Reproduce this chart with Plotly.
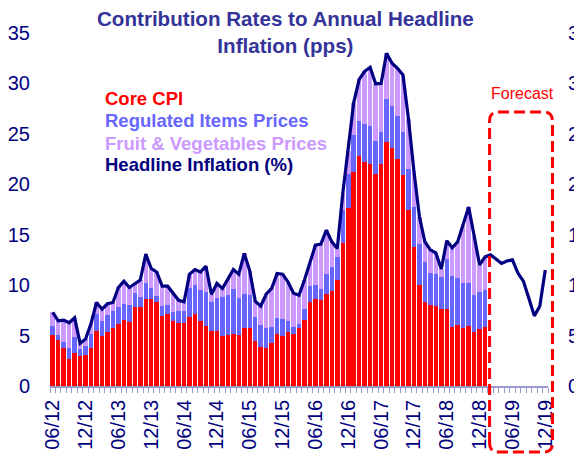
import plotly.graph_objects as go

# ---------------- data ----------------
# monthly categories 06/12 ... 12/19
months = []
for yr in range(12, 20):
    for m in range(1, 13):
        if (yr == 12 and m < 6):
            continue
        months.append(f"{m:02d}/{yr:02d}")

tick_labels = ["06/12", "12/12", "06/13", "12/13", "06/14", "12/14", "06/15", "12/15",
               "06/16", "12/16", "06/17", "12/17", "06/18", "12/18", "06/19", "12/19"]

core_cpi = [5.05, 4.55, 3.80, 2.67, 3.27, 2.94, 3.10, 3.73, 5.48, 5.00,
            5.35, 5.71, 6.17, 6.53, 6.37, 7.85, 7.85, 8.58, 8.58, 8.35,
            6.96, 7.10, 6.43, 6.27, 6.20, 6.80, 7.13, 6.47, 5.97, 5.48,
            5.45, 5.00, 5.05, 5.15, 5.08, 5.77, 5.77, 4.49, 3.89, 3.80,
            4.22, 5.15, 5.00, 5.35, 5.15, 5.71, 6.53, 8.35, 8.58, 8.51,
            9.10, 9.44, 10.50, 14.13, 17.60, 21.20, 22.77, 22.20, 22.05, 21.06,
            22.05, 24.19, 23.60, 22.54, 20.89, 17.50, 13.80, 10.00, 8.28, 8.02,
            7.92, 7.62, 7.59, 5.87, 6.00, 5.77, 5.97, 5.35, 5.61, 5.84]

regulated = [0.92, 0.53, 0.56, 1.06, 1.62, 0.72, 0.89, 1.42, 1.61, 1.40,
             1.65, 1.72, 1.62, 1.62, 1.68, 1.42, 0.99, 1.59, 1.16, 0.59,
             0.96, 0.92, 0.90, 1.16, 1.23, 2.87, 2.87, 3.03, 3.37, 2.87,
             3.29, 3.84, 4.02, 4.42, 3.60, 3.40, 3.30, 2.34, 2.15, 1.97,
             1.65, 1.61, 1.63, 1.08, 0.72, 0.43, 1.09, 1.55, 1.42, 1.06,
             1.99, 2.31, 2.30, 3.37, 3.46, 3.65, 3.50, 3.74, 3.69, 3.23,
             3.13, 4.31, 4.12, 4.26, 4.31, 4.05, 3.95, 4.10, 4.02, 3.14,
             3.17, 3.20, 5.05, 5.02, 4.72, 4.40, 4.20, 3.72, 3.73, 3.66]

fruit_veg = [1.33, 1.39, 2.17, 2.54, 1.87, 0.56, 0.66, 1.05, 1.19, 1.22,
             1.15, 0.85, 1.98, 2.25, 1.72, 0.90, 1.66, 2.90, 1.91, 2.36,
             1.98, 1.88, 1.84, 1.07, 0.92, 1.42, 1.55, 1.80, 2.54, 0.72,
             1.43, 0.83, 1.53, 1.98, 2.41, 3.97, 2.35, 1.59, 1.88, 3.33,
             3.80, 4.40, 4.46, 3.87, 3.33, 2.86, 2.88, 2.25, 3.96, 4.49,
             4.36, 2.54, 0.83, 1.60, 2.24, 3.25, 4.13, 5.26, 5.86, 5.68,
             4.82, 4.50, 4.28, 4.70, 5.65, 4.95, 3.55, 2.70, 2.00, 2.34,
             2.11, 0.78, 1.76, 2.81, 3.58, 5.83, 7.58, 5.83, 2.66, 3.30]

headline = [7.30, 6.47, 6.53, 6.27, 6.76, 4.22, 4.65, 6.20, 8.28, 7.62,
            8.15, 8.28, 9.77, 10.40, 9.77, 10.17, 10.50, 13.07, 11.65, 11.30,
            9.90, 9.90, 9.17, 8.50, 8.35, 11.09, 11.55, 11.30, 11.88, 9.07,
            10.17, 9.67, 10.60, 11.55, 11.09, 13.14, 11.42, 8.42, 7.92, 9.10,
            9.67, 11.16, 11.09, 10.30, 9.20, 9.00, 10.50, 12.15, 13.96, 14.06,
            15.45, 14.29, 13.63, 19.10, 23.30, 28.10, 30.40, 31.20, 31.60, 29.97,
            30.00, 33.00, 32.00, 31.50, 30.85, 26.50, 21.30, 16.80, 14.30, 13.50,
            13.20, 11.60, 14.40, 13.70, 14.30, 16.00, 17.75, 14.90, 12.00, 12.80,
            13.00, 12.60, 12.15, 12.40, 12.50, 11.20, 10.40, 8.70, 6.95, 7.90,
            11.50]

y_ticks = [0, 5, 10, 15, 20, 25, 30, 35]

# ---------------- styling ----------------
FONT = "Liberation Sans, Arial, sans-serif"
NAVY = "#000080"
RED = "#FF0000"
BLUE = "#6666FF"
LILAC = "#CC99FF"
AXIS = "#9999CC"
CLEAR = "rgba(0,0,0,0)"

L, R, T, B = 49.8, 25.5, 33, 71
W_FIG, H_FIG = 574, 457
PW = W_FIG - L - R
PH = H_FIG - T - B


def px_x(px):
    return (px - L) / PW


def px_y(py):
    return (H_FIG - B - py) / PH


idx = list(range(len(months)))
bar_idx = idx[:len(core_cpi)]
tick_idx = [months.index(t) for t in tick_labels]

fig = go.Figure()
fig.add_trace(go.Bar(x=bar_idx, y=core_cpi, marker=dict(color=RED, line_width=0), name="Core CPI"))
fig.add_trace(go.Bar(x=bar_idx, y=regulated, marker=dict(color=BLUE, line_width=0), name="Regulated Items Prices"))
fig.add_trace(go.Bar(x=bar_idx, y=fruit_veg, marker=dict(color=LILAC, line_width=0), name="Fruit & Vegetables Prices"))
fig.add_trace(go.Scatter(x=idx, y=headline, mode="lines", line=dict(color=NAVY, width=3.2),
                         name="Headline Inflation (%)"))
# invisible trace to activate right axis
fig.add_trace(go.Scatter(x=[idx[0]], y=[0], yaxis="y2", mode="markers",
                         marker=dict(opacity=0), showlegend=False, hoverinfo="skip"))

fig.update_layout(
    width=W_FIG, height=H_FIG, autosize=False,
    margin=dict(l=L, r=R, t=T, b=B, pad=0, autoexpand=False),
    barmode="stack", bargap=0.18,
    plot_bgcolor="white", paper_bgcolor="white",
    showlegend=False,
    font=dict(family=FONT, color=NAVY),
    xaxis=dict(range=[-0.5, len(months) - 0.5], tickmode="array", tickvals=tick_idx,
               ticktext=tick_labels, tickangle=-90, ticks="outside", ticklen=4,
               tickcolor=CLEAR, automargin=False,
               tickfont=dict(size=20, color=NAVY, family=FONT),
               showline=True, linecolor=AXIS, linewidth=1.5, showgrid=False, zeroline=False,
               minor=dict(tick0=-0.5, dtick=1, ticks="outside", ticklen=5, tickcolor=AXIS,
                          tickwidth=1, showgrid=False)),
    yaxis=dict(range=[0, 35], tickmode="array", tickvals=y_ticks, showgrid=False,
               zeroline=False, showline=False, ticks="outside", ticklen=15, tickcolor=CLEAR,
               automargin=False, tickfont=dict(size=20, color=NAVY, family=FONT)),
    yaxis2=dict(range=[0, 35], tickmode="array", tickvals=y_ticks, overlaying="y", side="right",
                showgrid=False, zeroline=False, showline=False, ticks="outside", ticklen=15,
                tickcolor=CLEAR, automargin=False,
                tickfont=dict(size=20, color=NAVY, family=FONT)),
)

# title
fig.add_annotation(x=px_x(286), y=px_y(5), xref="paper", yref="paper", xanchor="center",
                   yanchor="top", showarrow=False, align="center",
                   text="<b>Contribution Rates to Annual Headline<br>Inflation (pps)</b>",
                   font=dict(size=20.6, color="#333399", family=FONT))

# legend as coloured text
legend_items = [("Core CPI", RED, 99), ("Regulated Items Prices", BLUE, 121),
                ("Fruit & Vegetables Prices", LILAC, 143), ("Headline Inflation (%)", NAVY, 164)]
for txt, col, py in legend_items:
    fig.add_annotation(x=px_x(103), y=px_y(py), xref="paper", yref="paper", xanchor="left",
                       yanchor="middle", showarrow=False, text=f"<b>{txt}</b>",
                       font=dict(size=18.5, color=col, family=FONT))

# forecast label and box
fig.add_annotation(x=px_x(523), y=px_y(93), xref="paper", yref="paper", xanchor="center",
                   yanchor="middle", showarrow=False, text="Forecast",
                   font=dict(size=16, color=RED, family=FONT))

x0, x1 = px_x(490), px_x(553)
top, bot = px_y(112), px_y(452)
rx, ry = 9 / PW, 9 / PH
path = (f"M {x0},{bot + ry} L {x0},{top - ry} Q {x0},{top} {x0 + rx},{top} "
        f"L {x1 - rx},{top} Q {x1},{top} {x1},{top - ry} L {x1},{bot + ry} "
        f"Q {x1},{bot} {x1 - rx},{bot} L {x0 + rx},{bot} Q {x0},{bot} {x0},{bot + ry} Z")
fig.add_shape(type="path", path=path, xref="paper", yref="paper",
              line=dict(color=RED, width=3, dash="11px,5px"), layer="above")

fig.write_html("out.html", config={"displayModeBar": False},
               post_script="document.body.style.margin='0';")
